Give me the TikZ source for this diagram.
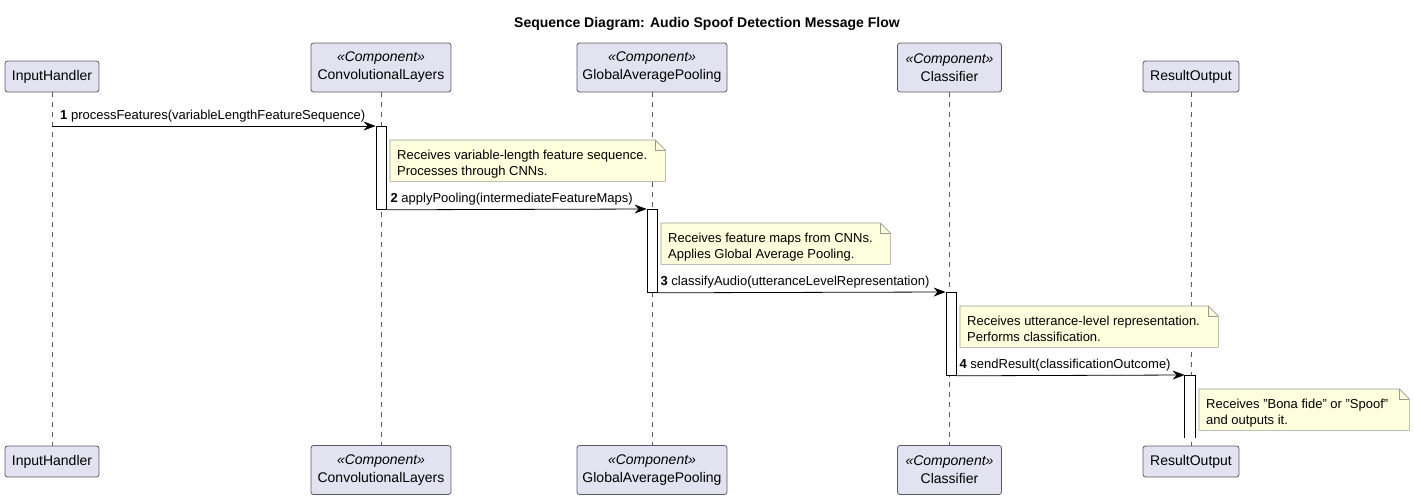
\documentclass[tikz,border=0pt]{standalone}
\usepackage{fontspec}
\setmainfont{Liberation Sans}
\usepackage{tikz}
\usetikzlibrary{arrows.meta,positioning}

\definecolor{partfill}{HTML}{E2E2F0}
\definecolor{partline}{HTML}{5A5A66}
\definecolor{notefill}{HTML}{FEFFDD}
\definecolor{noteline}{HTML}{9A9A90}

\tikzset{
  party/.style={draw=partline, fill=partfill, rounded corners=2.5pt, line width=0.8pt,
    minimum height=31pt, inner sep=0pt, align=center, font=\fontsize{14}{18}\selectfont},
  lifeline/.style={draw=partline, dash pattern=on 5pt off 5pt, line width=0.6pt},
  actbox/.style={draw=black, fill=white, line width=0.8pt, minimum width=10pt, inner sep=0pt},
  msg/.style={draw=black, line width=0.8pt, -{Stealth[length=12pt,width=9pt,inset=4pt]}},
  msglabel/.style={anchor=south west, inner sep=0pt, font=\fontsize{13}{16}\selectfont},
  notetext/.style={anchor=north west, inner sep=0pt, minimum height=41pt},
  notebody/.style={anchor=north west, align=left, inner sep=0pt, font=\fontsize{13}{16}\selectfont},
}

\newcommand{\stereo}{\textit{«Component»}}
\newcommand{\dq}{\symbol{34}}
% folded note outline round a text node
\newcommand{\notebox}[1]{%
  \draw[draw=noteline, fill=notefill, line width=0.6pt]
    (#1.north west) -- ([xshift=-10pt]#1.north east) -- ([yshift=-10pt]#1.north east)
    -- (#1.south east) -- (#1.south west) -- cycle;
  \draw[draw=noteline, line width=0.6pt]
    ([xshift=-10pt]#1.north east) -- ([xshift=-10pt,yshift=-10pt]#1.north east)
    -- ([yshift=-10pt]#1.north east);}

\begin{document}
\begin{tikzpicture}[x=1pt,y=-1pt]
  \useasboundingbox (0,0) rectangle (1414,499);

  \node[font=\bfseries\fontsize{14}{16}\selectfont] (title) at (707,24)
    {Sequence Diagram: Audio Spoof Detection Message Flow};

  % participants, top
  \node[party, minimum width=94pt] (inTop) at (52,76.5) {InputHandler};
  \node[party, minimum width=140pt, minimum height=49pt] (convTop) at (381,67.5) {\stereo\\ConvolutionalLayers};
  \node[party, minimum width=150pt, minimum height=49pt] (gapTop) at (652,67.5) {\stereo\\GlobalAveragePooling};
  \node[party, minimum width=104pt, minimum height=49pt] (clsTop) at (949.5,67.5) {\stereo\\Classifier};
  \node[party, minimum width=96pt] (resTop) at (1191,76.5) {ResultOutput};

  % participants, bottom
  \node[party, minimum width=94pt] (inBot) at (52,461.5) {InputHandler};
  \node[party, minimum width=140pt, minimum height=49pt] (convBot) at (381,470) {\stereo\\ConvolutionalLayers};
  \node[party, minimum width=150pt, minimum height=49pt] (gapBot) at (652,470) {\stereo\\GlobalAveragePooling};
  \node[party, minimum width=104pt, minimum height=49pt] (clsBot) at (949.5,470) {\stereo\\Classifier};
  \node[party, minimum width=96pt] (resBot) at (1191,461.5) {ResultOutput};

  % lifelines
  \draw[lifeline] (inTop) -- (inBot);
  \draw[lifeline] (convTop) -- (convBot);
  \draw[lifeline] (gapTop) -- (gapBot);
  \draw[lifeline] (clsTop) -- (clsBot);
  \draw[lifeline] (resTop) -- (resBot);

  % activations
  \node[actbox, minimum height=83pt, anchor=north] (act1) at (381,126) {};
  \node[actbox, minimum height=83pt, anchor=north] (act2) at (652,209) {};
  \node[actbox, minimum height=83pt, anchor=north] (act3) at (951,292) {};
  \node[actbox, draw=none, minimum height=62pt, anchor=north] (act4) at (1190,375) {};
  \draw[line width=0.8pt] (act4.south west) -- (act4.north west) -- (act4.north east) -- (act4.south east);

  % messages
  \draw[msg] (inTop.south |- act1.north) coordinate (m1) -- (act1.north west);
  \node[msglabel] (lab1) at ([xshift=8pt,yshift=4pt]m1) {\textbf{1} processFeatures(variableLengthFeatureSequence)};
  \draw[msg] (act1.south east) -- (act2.north west);
  \node[msglabel] (lab2) at ([xshift=4pt,yshift=4pt]act1.south east) {\textbf{2} applyPooling(intermediateFeatureMaps)};
  \draw[msg] (act2.south east) -- (act3.north west);
  \node[msglabel] (lab3) at ([xshift=3pt,yshift=4pt]act2.south east) {\textbf{3} classifyAudio(utteranceLevelRepresentation)};
  \draw[msg] (act3.south east) -- (act4.north west);
  \node[msglabel] (lab4) at ([xshift=3pt,yshift=4pt]act3.south east) {\textbf{4} sendResult(classificationOutcome)};

  % notes
  \node[notetext, minimum width=275pt] (note1) at (390,140) {};
  \notebox{note1}
  \node[notebody] (txt1) at (397,150) {Receives variable-length feature sequence.\\Processes through CNNs.};

  \node[notetext, minimum width=229pt] (note2) at (661,223) {};
  \notebox{note2}
  \node[notebody] (txt2) at (668,233) {Receives feature maps from CNNs.\\Applies Global Average Pooling.};

  \node[notetext, minimum width=258pt] (note3) at (960,306) {};
  \notebox{note3}
  \node[notebody] (txt3) at (967,316) {Receives utterance-level representation.\\Performs classification.};

  \node[notetext, minimum width=210pt] (note4) at (1199,389) {};
  \notebox{note4}
  \node[notebody] (txt4) at (1206,399) {Receives \dq Bona fide\dq{} or \dq Spoof\dq\\and outputs it.};
\end{tikzpicture}
\end{document}
